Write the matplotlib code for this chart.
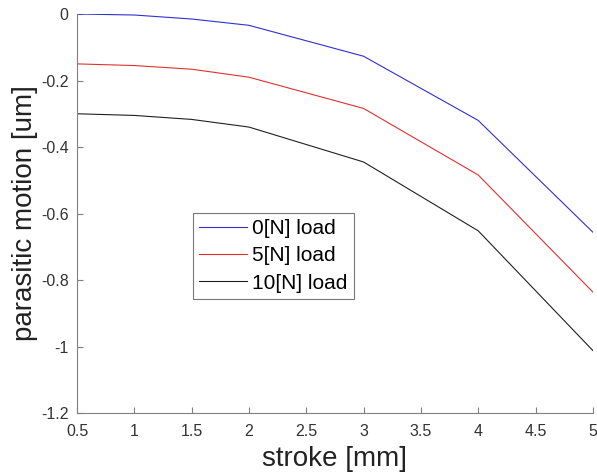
import matplotlib.pyplot as plt

plt.rcParams["font.family"] = ["Liberation Sans", "DejaVu Sans"]

stroke = [0.5, 1, 1.5, 2, 3, 4, 5]
load_0 = [0.0, -0.003, -0.015, -0.034, -0.127, -0.320, -0.656]
load_5 = [-0.150, -0.155, -0.166, -0.190, -0.284, -0.484, -0.836]
load_10 = [-0.300, -0.305, -0.317, -0.340, -0.445, -0.652, -1.012]
labels = ["0[N] load", "5[N] load", "10[N] load"]
colors = ["#3030d0", "#e03030", "#202020"]

x_ticks = [0.5, 1, 1.5, 2, 2.5, 3, 3.5, 4, 4.5, 5]
y_ticks = [-1.2, -1, -0.8, -0.6, -0.4, -0.2, 0]


def main():
    fig = plt.figure(figsize=(5.97, 4.75), dpi=100)
    ax = fig.add_axes([0.129, 0.1305, 0.864, 0.84])

    for values, label, color in zip((load_0, load_5, load_10), labels, colors):
        ax.plot(stroke, values, color=color, linewidth=0.8, label=label)

    ax.set_xlim(0.5, 5)
    ax.set_ylim(-1.2, 0)
    ax.set_xticks(x_ticks)
    ax.set_xticklabels([f"{t:g}" for t in x_ticks])
    ax.set_yticks(y_ticks)
    ax.set_yticklabels([f"{t:g}" for t in y_ticks])

    for side in ("top", "right"):
        ax.spines[side].set_visible(False)
    for side in ("left", "bottom"):
        ax.spines[side].set_color("#808080")
        ax.spines[side].set_linewidth(0.8)
    ax.tick_params(direction="in", length=4, width=0.8, color="#808080",
                   labelcolor="#333333", labelsize=11.5)
    ax.tick_params(axis="x", pad=8)
    ax.tick_params(axis="y", pad=6)

    ax.set_xlabel("stroke [mm]", fontsize=20, color="#222222", labelpad=5)
    ax.set_ylabel("parasitic motion [um]", fontsize=20, color="#222222", labelpad=2)

    leg = ax.legend(loc="upper left", bbox_to_anchor=(0.225, 0.502), fontsize=15,
                    frameon=True, fancybox=False, handlelength=2.3, handletextpad=0.25,
                    borderpad=0.3, labelspacing=0.4, borderaxespad=0)
    leg.get_frame().set_edgecolor("#555555")
    leg.get_frame().set_linewidth(0.8)

    fig.savefig("out.png", dpi=100)


if __name__ == "__main__":
    main()
